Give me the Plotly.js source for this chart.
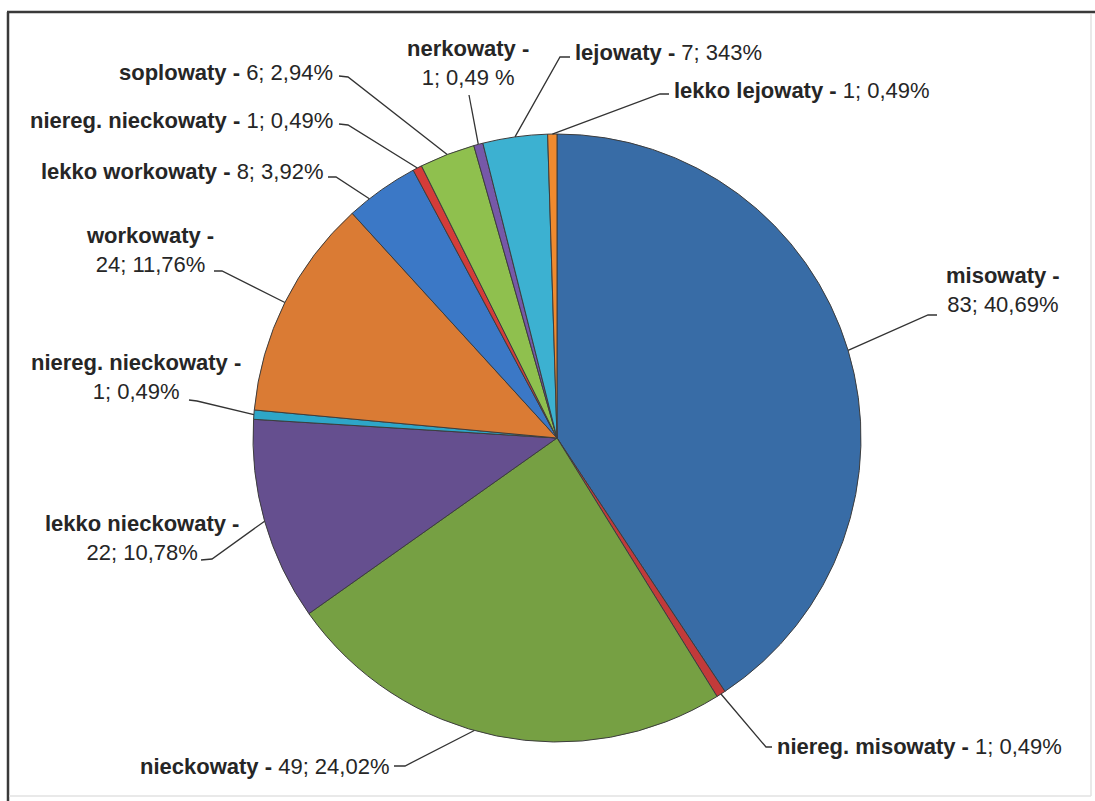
<!DOCTYPE html>
<html>
<head>
<meta charset="utf-8">
<script src="https://cdn.plot.ly/plotly-3.0.1.min.js"></script>
<style>
html,body{margin:0;padding:0;background:#fff;}
#chart{width:1095px;height:801px;}
</style>
</head>
<body>
<div id="chart"></div>
<script>
// ---- data ----
const categories = ['misowaty','niereg. misowaty','nieckowaty','lekko nieckowaty','niereg. nieckowaty','workowaty','lekko workowaty','niereg. nieckowaty','soplowaty','nerkowaty','lejowaty','lekko lejowaty'];
const counts = [83, 1, 49, 22, 1, 24, 8, 1, 6, 1, 7, 1];
const percentLabels = ['40,69%','0,49%','24,02%','10,78%','0,49%','11,76%','3,92%','0,49%','2,94%','0,49 %','343%','0,49%'];
const sliceColors = ['#386ca6','#c23a3a','#76a043','#654f8f','#2ea6c8','#da7b34','#3b78c6','#d43c39','#8fc04e','#7658a8','#3cb1d1','#f08a2e'];

// ---- layout / styling ----
const W = 1095, H = 801;
const PIE = {cx: 557, cy: 438, r: 304};
const FONT = "'Liberation Sans',Arial,sans-serif";
const FS = 22;
const labelPlace = [
  {two:true,  x:1003, y:290, xa:'center', frac:0.5,  pts:[[937,315],[928,315]]},
  {two:false, x:775,  y:746, xa:'left',   frac:0.5,  pts:[[772,747],[766,747]]},
  {two:false, x:391,  y:766, xa:'right',  frac:0.55, pts:[[394,766],[405,766]]},
  {two:true,  x:142,  y:538, xa:'center', frac:0.5,  pts:[[201,560],[212,559]]},
  {two:true,  x:136,  y:377, xa:'center', frac:0.5,  pts:[[189,400],[197,401]]},
  {two:true,  x:150,  y:250, xa:'center', frac:0.5,  pts:[[214,271],[222,271]]},
  {two:false, x:325,  y:172, xa:'right',  frac:0.3,  pts:[[328,177],[336,177]]},
  {two:false, x:335,  y:120, xa:'right',  frac:0.5,  pts:[[339,124],[348,125]]},
  {two:false, x:335,  y:72,  xa:'right',  frac:0.5,  pts:[[339,76],[348,77]]},
  {two:true,  x:468,  y:63,  xa:'center', frac:0.5,  pts:[[469,95]]},
  {two:false, x:573,  y:52,  xa:'left',   frac:0.5,  pts:[[570,57],[560,57]]},
  {two:false, x:672,  y:90,  xa:'left',   frac:0.5,  pts:[[669,94],[660,94]]}
];

const px = x => x / W;
const py = y => 1 - y / H;

const total = counts.reduce((a, b) => a + b, 0);
const annotations = [];
const shapes = [];
let cum = 0;
counts.forEach((v, i) => {
  const p = labelPlace[i];
  const theta = (cum + p.frac * v) / total * 2 * Math.PI;
  cum += v;
  const ex = PIE.cx + PIE.r * Math.sin(theta);
  const ey = PIE.cy - PIE.r * Math.cos(theta);
  const name = '<b>' + categories[i] + ' -</b>';
  const val = counts[i] + '; ' + percentLabels[i];
  annotations.push({
    xref: 'paper', yref: 'paper', x: px(p.x), y: py(p.y),
    xanchor: p.xa, yanchor: 'middle', align: 'center',
    text: p.two ? name + '<br>' + val : name + ' ' + val,
    showarrow: false,
    font: {family: FONT, size: FS, color: '#262626'}
  });
  let path = 'M ' + px(p.pts[0][0]) + ' ' + py(p.pts[0][1]);
  for (let k = 1; k < p.pts.length; k++) path += ' L ' + px(p.pts[k][0]) + ' ' + py(p.pts[k][1]);
  path += ' L ' + px(ex) + ' ' + py(ey);
  shapes.push({type: 'path', xref: 'paper', yref: 'paper', path: path,
    line: {color: '#333333', width: 1.3}});
});

// frame
shapes.push({type:'line', xref:'paper', yref:'paper', x0:px(7), x1:px(1095), y0:py(12), y1:py(12), line:{color:'#3a3a3a', width:2.5}});
shapes.push({type:'line', xref:'paper', yref:'paper', x0:px(8), x1:px(8), y0:py(12), y1:py(801), line:{color:'#3a3a3a', width:2.5}});
shapes.push({type:'line', xref:'paper', yref:'paper', x0:px(1091), x1:px(1091), y0:py(14), y1:py(796), line:{color:'#e2e2e2', width:1.5}});
shapes.push({type:'line', xref:'paper', yref:'paper', x0:px(9), x1:px(1091), y0:py(796), y1:py(796), line:{color:'#e2e2e2', width:1.5}});

const trace = {
  type: 'pie',
  labels: categories.map((c, i) => 's' + i),
  values: counts,
  sort: false,
  direction: 'clockwise',
  rotation: 0,
  textinfo: 'none',
  hoverinfo: 'skip',
  marker: {colors: sliceColors, line: {color: '#3d3d3d', width: 1}},
  domain: {x: [px(PIE.cx - PIE.r), px(PIE.cx + PIE.r)], y: [py(PIE.cy + PIE.r), py(PIE.cy - PIE.r)]}
};

Plotly.newPlot('chart', [trace], {
  width: W, height: H,
  margin: {l: 0, r: 0, t: 0, b: 0},
  showlegend: false,
  paper_bgcolor: '#ffffff',
  annotations: annotations,
  shapes: shapes
}, {staticPlot: true});
</script>
</body>
</html>
